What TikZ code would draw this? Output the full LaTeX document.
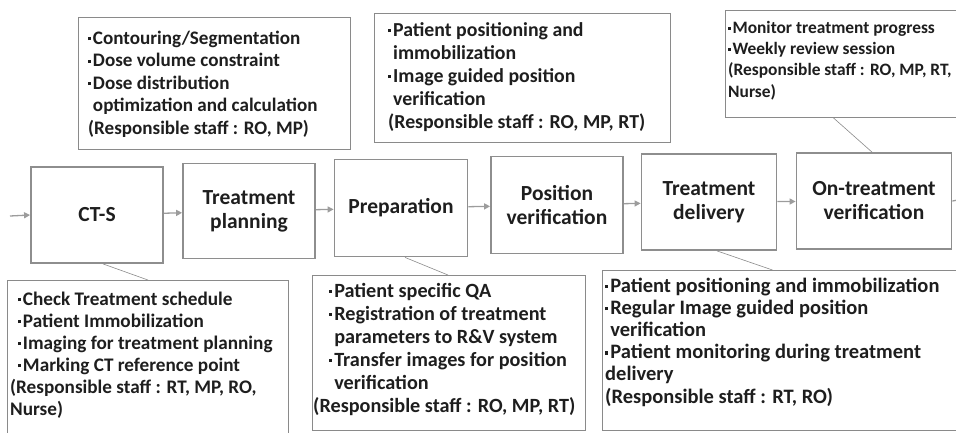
\documentclass[tikz,border=0pt]{standalone}
\usepackage{fontspec}
\setmainfont{Carlito}
\usetikzlibrary{arrows.meta}
\definecolor{boxgray}{HTML}{8E8E8E}
\definecolor{linegray}{HTML}{8A8A8A}
\definecolor{arrowgray}{HTML}{9C9C9C}
\definecolor{txt}{HTML}{1E1E1E}
\tikzset{
  stage/.style={draw=boxgray, line width=1.8pt, fill=white, align=center, text=txt,
    font=\fontsize{21.5}{24}\selectfont\bfseries},
  callout/.style={draw=linegray, line width=0.9pt, fill=white, anchor=north west, inner sep=0pt},
  note/.style={anchor=base west, inner sep=0pt, align=left, text=txt},
  flow/.style={draw=arrowgray, line width=1.3pt, -{Triangle[length=6pt,width=6pt]}},
  pointer/.style={draw=linegray, line width=0.6pt}
}
\newcommand{\bul}{\raisebox{0.2em}{\rule{0.15em}{0.15em}}\hspace{0.1em}}
\newcommand{\ind}{\hspace{0.25em}}
\begin{document}
\begin{tikzpicture}[x=1pt,y=-1pt]
\useasboundingbox (0,0) rectangle (956,432);
% stages
\node[stage, minimum width=132pt, minimum height=96pt] (cts) at (97,215) {CT-S};
\node[stage, minimum width=132pt, minimum height=95pt] (tp) at (249,211) {Treatment\\planning};
\node[stage, minimum width=133pt, minimum height=97pt] (prep) at (401,208) {Preparation};
\node[stage, minimum width=132pt, minimum height=97pt] (pv) at (557,205) {Position\\verification};
\node[stage, minimum width=135pt, minimum height=96pt] (td) at (709,202) {Treatment\\delivery};
\node[stage, minimum width=155pt, minimum height=96pt] (ont) at (874,201) {On-treatment\\verification};
\coordinate (in) at (10,216);
\coordinate (out) at (958,200);
\draw[flow] (in) -- (cts.west);
\draw[flow] (cts) -- (tp);
\draw[flow] (tp) -- (prep);
\draw[flow] (prep) -- (pv);
\draw[flow] (pv) -- (td);
\draw[flow] (td) -- (ont);
\draw[draw=arrowgray, line width=1.3pt] (ont.east) -- (out);
% top callouts
\node[callout, minimum width=272pt, minimum height=132pt] (t1) at (78,17) {};
\node[note, font=\fontsize{19.1}{22.5}\selectfont\bfseries] (t1txt) at (88,134) {\bul Contouring/Segmentation\\\bul Dose volume constraint\\\bul Dose distribution\\\ind optimization and calculation\\(Responsible staff : RO, MP)};
\node[callout, minimum width=296pt, minimum height=129pt] (t2) at (374,13) {};
\node[note, font=\fontsize{19.8}{23}\selectfont\bfseries] (t2txt) at (388,128) {\bul Patient positioning and\\\ind immobilization\\\bul Image guided position\\\ind verification\\(Responsible staff : RO, MP, RT)};
\node[callout, minimum width=240pt, minimum height=107pt] (t3) at (725,10) {};
\node[note, font=\fontsize{17.4}{21.3}\selectfont\bfseries] (t3txt) at (728,97) {\bul Monitor treatment progress\\\bul Weekly review session\\(Responsible staff : RO, MP, RT,\\Nurse)};
% bottom callouts
\node[callout, minimum width=281pt, minimum height=160pt] (b1) at (7,280) {};
\node[note, font=\fontsize{19.2}{22}\selectfont\bfseries] (b1txt) at (10,415) {\hspace*{8pt}\bul Check Treatment schedule\\\hspace*{8pt}\bul Patient Immobilization\\\hspace*{8pt}\bul Imaging for treatment planning\\\hspace*{8pt}\bul Marking CT reference point\\(Responsible staff : RT, MP, RO,\\Nurse)};
\node[callout, minimum width=273pt, minimum height=155pt] (b2) at (312,275) {};
\node[note, font=\fontsize{20.2}{23}\selectfont\bfseries] (b2txt) at (313,412) {\hspace*{16pt}\bul Patient specific QA\\\hspace*{16pt}\bul Registration of treatment\\\hspace*{16pt}\ind parameters to R\&V system\\\hspace*{16pt}\bul Transfer images for position\\\hspace*{16pt}\ind verification\\(Responsible staff : RO, MP, RT)};
\node[callout, minimum width=360pt, minimum height=160pt] (b3) at (602,270) {};
\node[note, font=\fontsize{20.5}{22.2}\selectfont\bfseries] (b3txt) at (605,403) {\bul Patient positioning and immobilization\\\bul Regular Image guided position\\\ind verification\\\bul Patient monitoring during treatment\\delivery\\(Responsible staff : RT, RO)};
% pointers
\draw[pointer] ([xshift=6pt]cts.south) -- (b1.north);
\draw[pointer] ([xshift=4pt]prep.south) -- ([xshift=-1pt]b2.north);
\draw[pointer] ([xshift=8pt]td.south) -- ([xshift=-10pt]b3.north);
\draw[pointer] ([xshift=-12pt]t3.south) -- ([xshift=-2pt]ont.north);
\end{tikzpicture}
\end{document}
